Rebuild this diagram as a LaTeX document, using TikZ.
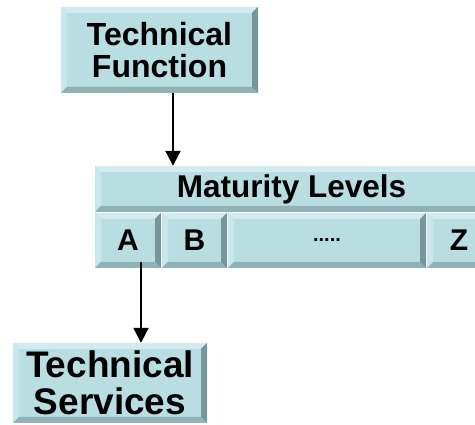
\documentclass[tikz,border=0pt]{standalone}
\usepackage{fontspec}
\setmainfont{Liberation Sans}
\usetikzlibrary{arrows.meta}

\definecolor{face}{RGB}{185,222,226}
\definecolor{bevT}{RGB}{208,236,239}
\definecolor{bevL}{RGB}{200,231,234}
\definecolor{bevB}{RGB}{143,178,181}
\definecolor{bevR}{RGB}{118,150,153}

\tikzset{
  bevelbox/.style={rectangle, inner sep=0pt, fill=face, align=center,
    path picture={
      \path (path picture bounding box.north west) coordinate (pnw)
            (path picture bounding box.north east) coordinate (pne)
            (path picture bounding box.south west) coordinate (psw)
            (path picture bounding box.south east) coordinate (pse);
      % top, left, bottom and right bevels
      \fill[bevT] (pnw) -- (pne) -- ([shift={(-6pt,-6pt)}]pne) -- ([shift={(6pt,-6pt)}]pnw) -- cycle;
      \fill[bevL] (pnw) -- (psw) -- ([shift={(6pt,6pt)}]psw) -- ([shift={(6pt,-6pt)}]pnw) -- cycle;
      \fill[bevB] (psw) -- (pse) -- ([shift={(-6pt,6pt)}]pse) -- ([shift={(6pt,6pt)}]psw) -- cycle;
      \fill[bevR] (pne) -- (pse) -- ([shift={(-6pt,6pt)}]pse) -- ([shift={(-6pt,-6pt)}]pne) -- cycle;
    }},
  bigtext/.style={font=\fontsize{32}{32}\selectfont\bfseries},
  hugetext/.style={font=\fontsize{37}{37}\selectfont\bfseries},
  headtext/.style={font=\fontsize{31.5}{31.5}\selectfont\bfseries},
  celltext/.style={font=\fontsize{30}{30}\selectfont\bfseries},
  arr/.style={line width=2.2pt, -{Triangle[width=15pt,length=15pt]}}
}

\begin{document}
\begin{tikzpicture}[x=1pt,y=-1pt]
  \useasboundingbox (0,0) rectangle (475,425);

  % top box
  \node[bevelbox, bigtext, minimum width=197pt, minimum height=86pt] (tf) at (159.5,50)
    {Technical\\Function};

  % maturity level table
  \node[bevelbox, headtext, minimum width=393pt, minimum height=46pt] (ml) at (291.5,189)
    {Maturity Levels};
  \node[bevelbox, celltext, minimum width=66pt, minimum height=55pt] (la) at (128,240.5) {A};
  \node[bevelbox, celltext, minimum width=65pt, minimum height=55pt] (lb) at (194.5,240.5) {B};
  \node[bevelbox, font=\fontsize{20}{20}\selectfont\bfseries, minimum width=198pt, minimum height=55pt] (ldots) at (327,240.5) {.....};
  \node[bevelbox, celltext, minimum width=64pt, minimum height=55pt] (lz) at (459,240.5) {Z};

  % bottom box
  \node[bevelbox, hugetext, minimum width=194pt, minimum height=80pt] (ts) at (110,383)
    {Technical\\Services};

  % connectors
  \coordinate (a1) at ([xshift=13.5pt]tf.south);
  \draw[arr] (a1) -- (a1 |- ml.north);
  \coordinate (a2) at ([xshift=13pt,yshift=6pt]la.south);
  \draw[arr] (a2) -- (a2 |- ts.north);
\end{tikzpicture}
\end{document}
